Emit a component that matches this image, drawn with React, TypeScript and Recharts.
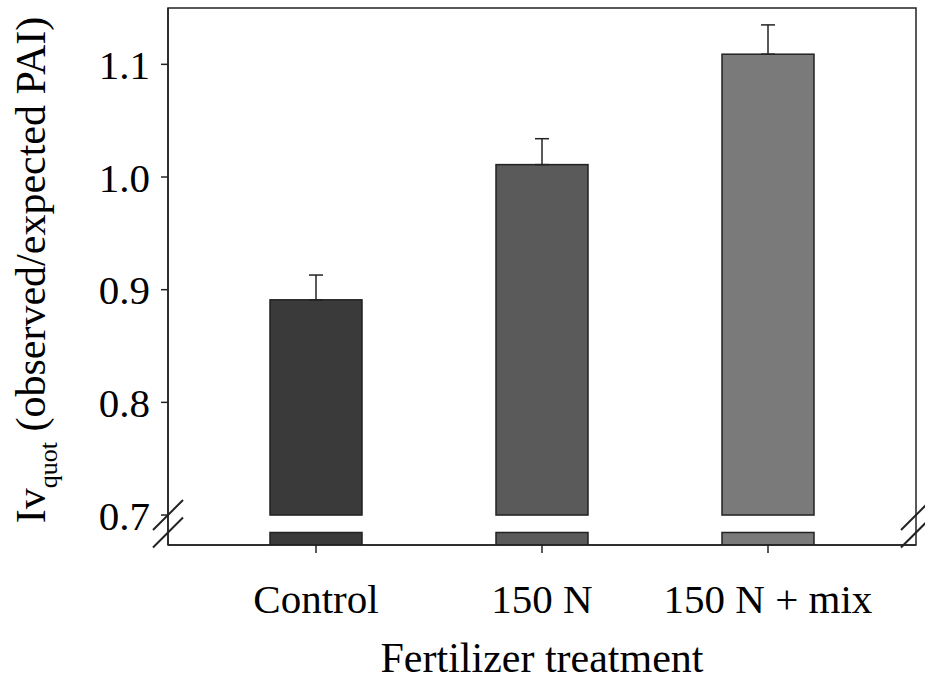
import { BarChart, Bar, XAxis, YAxis, ErrorBar, Cell, Customized } from 'recharts';

// treatments and Iv_quot means (+ upper SE)
const categories = ['Control', '150 N', '150 N + mix'];
const ivQuot = [0.891, 1.011, 1.109];
const ivErr = [0.022, 0.023, 0.026];
const barColors = ['#3a3a3a', '#5a5a5a', '#7a7a7a'];
const yTicks = [0.7, 0.8, 0.9, 1.0, 1.1];

// axis is broken between STUB_TOP and BREAK_TOP
const Y_MIN = 0.6734;
const Y_MAX = 1.15;
const BREAK_TOP = 0.7;
const STUB_TOP = 0.6845;

const W = 925;
const H = 683;
const MARGIN = { top: 8, right: 9, bottom: 0, left: 0 };
const YAXIS_W = 168;
const XAXIS_H = 138;
const PLOT_L = MARGIN.left + YAXIS_W;
const PLOT_R = W - MARGIN.right;
const PLOT_T = MARGIN.top;
const PLOT_B = H - MARGIN.bottom - XAXIS_H;

const FONT = '"Liberation Serif", "Times New Roman", serif';
const INK = '#222';

const data = categories.map((name, i) => ({
  name,
  value: ivQuot[i],
  err: [0, ivErr[i]],
}));

const valueToY = (v: number) => PLOT_T + ((Y_MAX - v) / (Y_MAX - Y_MIN)) * (PLOT_B - PLOT_T);

function BrokenBar(props: any) {
  const { x, y, width, height, fill, payload } = props;
  const v = payload.value;
  const k = height / (v - Y_MIN);
  const yBreak = y + (v - BREAK_TOP) * k;
  const yStub = y + (v - STUB_TOP) * k;
  return (
    <g>
      <rect x={x} y={y} width={width} height={yBreak - y} fill={fill} stroke={INK} strokeWidth={1.5} />
      <rect x={x} y={yStub} width={width} height={y + height - yStub} fill={fill} stroke={INK} strokeWidth={1.5} />
    </g>
  );
}

function FrameAndBreaks() {
  const yA = valueToY(BREAK_TOP);
  const yB = valueToY(STUB_TOP);
  const slash = (cx: number, cy: number, key: string) => (
    <line key={key} x1={cx - 15} y1={cy + 15} x2={cx + 15} y2={cy - 15} stroke={INK} strokeWidth={2} />
  );
  return (
    <g>
      <rect x={PLOT_L} y={PLOT_T} width={PLOT_R - PLOT_L} height={PLOT_B - PLOT_T} fill="none" stroke={INK} strokeWidth={1.5} />
      {slash(PLOT_L, yA, 'l1')}
      {slash(PLOT_L, yB, 'l2')}
      {slash(PLOT_R, yA, 'r1')}
      {slash(PLOT_R, yB, 'r2')}
    </g>
  );
}

const YTitle = () => {
  const cx = 45;
  const cy = 270;
  return (
    <text
      x={cx}
      y={cy}
      transform={`rotate(-90, ${cx}, ${cy})`}
      textAnchor="middle"
      fontSize={42}
      fontFamily={FONT}
      fill="#000"
    >
      <tspan>Iv</tspan>
      <tspan fontSize={26} dy={12}>quot</tspan>
      <tspan dy={-12}> (observed/expected PAI)</tspan>
    </text>
  );
};

const XTitle = () => (
  <text x={(PLOT_L + PLOT_R) / 2} y={672} textAnchor="middle" fontSize={42} fontFamily={FONT} fill="#000">
    Fertilizer treatment
  </text>
);

export default function App() {
  return (
    <div style={{ width: W, height: H, fontFamily: FONT }}>
      <style>{'body{margin:0}'}</style>
      <BarChart width={W} height={H} data={data} margin={MARGIN} barSize={92}>
        <XAxis
          dataKey="name"
          height={XAXIS_H}
          padding={{ left: 35, right: 35 }}
          tickSize={8}
          tickMargin={31}
          axisLine={{ stroke: INK, strokeWidth: 1.5 }}
          tickLine={{ stroke: INK, strokeWidth: 1.5 }}
          tick={{ fontSize: 41, fill: '#000', fontFamily: FONT }}
          label={{ content: XTitle }}
        />
        <YAxis
          type="number"
          domain={[Y_MIN, Y_MAX]}
          ticks={yTicks}
          interval={0}
          allowDataOverflow
          width={YAXIS_W}
          tickSize={7}
          tickMargin={11}
          tickFormatter={(v: number) => v.toFixed(1)}
          axisLine={{ stroke: INK, strokeWidth: 1.5 }}
          tickLine={{ stroke: INK, strokeWidth: 1.5 }}
          tick={{ fontSize: 41, fill: '#000', fontFamily: FONT }}
          label={{ content: YTitle }}
        />
        <Customized component={FrameAndBreaks} />
        <Bar dataKey="value" shape={BrokenBar} isAnimationActive={false}>
          {data.map((_, i) => (
            <Cell key={`cell-${i}`} fill={barColors[i]} />
          ))}
          <ErrorBar dataKey="err" width={7} stroke={INK} strokeWidth={1.5} direction="y" />
        </Bar>
      </BarChart>
    </div>
  );
}
